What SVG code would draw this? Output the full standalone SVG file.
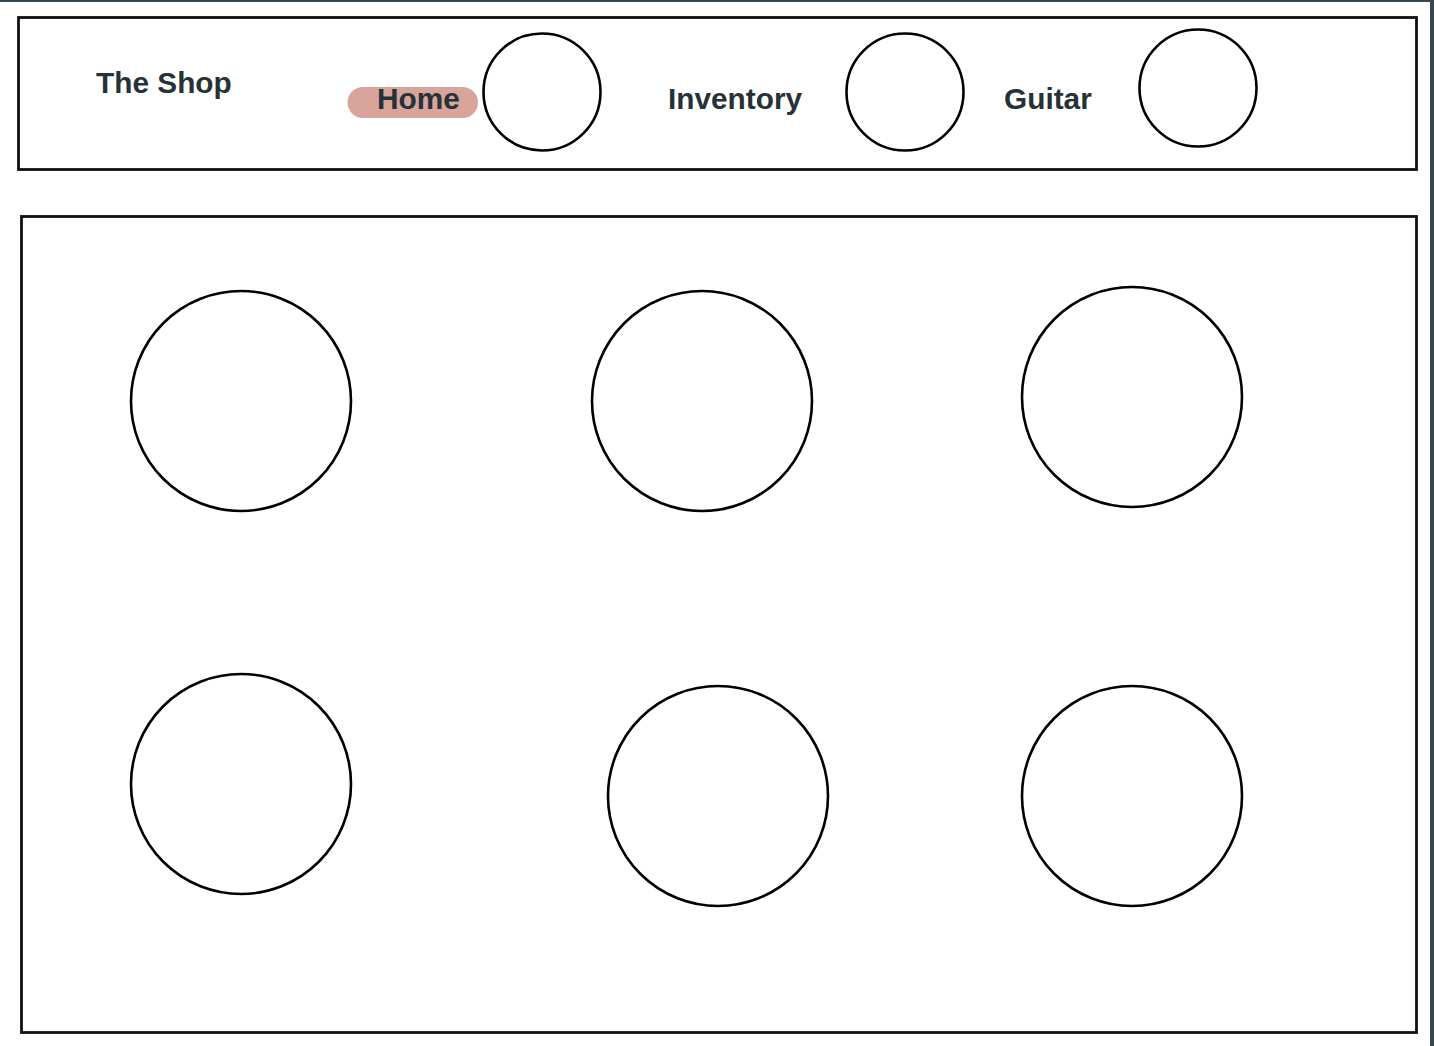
<svg xmlns="http://www.w3.org/2000/svg" width="1434" height="1046" viewBox="0 0 1434 1046">
<style>
.box{fill:#fff;stroke:#111;stroke-width:2.8}
.c{fill:#fff;stroke:#000;stroke-width:2.6}
.t{font-family:"Liberation Sans",Arial,sans-serif;font-weight:bold;font-size:29.8px;fill:#263238}
</style>
<rect x="0" y="0" width="1434" height="1046" fill="#fff"/>
<rect x="0" y="0" width="1434" height="2" fill="#37474f"/>
<rect x="1430" y="0" width="4" height="1046" fill="#37474f"/>
<g id="header">
<rect class="box" x="18.5" y="17.5" width="1398" height="152"/>
</g>
<g id="title"><text class="t" x="96" y="93">The Shop</text></g>
<g id="home">
<rect x="347.5" y="87" width="130.5" height="31" rx="15.5" fill="#d9a49c"/>
<text class="t" x="377" y="109">Home</text>
</g>
<g id="nav-circle-1"><circle class="c" cx="542" cy="92" r="58.5"/></g>
<g id="inventory"><text class="t" x="668" y="109">Inventory</text></g>
<g id="nav-circle-2"><circle class="c" cx="905" cy="92" r="58.5"/></g>
<g id="guitar"><text class="t" x="1004" y="109">Guitar</text></g>
<g id="nav-circle-3"><circle class="c" cx="1198" cy="88" r="58.5"/></g>
<g id="main">
<rect class="box" x="21.5" y="216.5" width="1395" height="816"/>
</g>
<g id="item-1"><circle class="c" cx="241" cy="401" r="110"/></g>
<g id="item-2"><circle class="c" cx="702" cy="401" r="110"/></g>
<g id="item-3"><circle class="c" cx="1132" cy="397" r="110"/></g>
<g id="item-4"><circle class="c" cx="241" cy="784" r="110"/></g>
<g id="item-5"><circle class="c" cx="718" cy="796" r="110"/></g>
<g id="item-6"><circle class="c" cx="1132" cy="796" r="110"/></g>
<g id="connectors"></g>
</svg>
